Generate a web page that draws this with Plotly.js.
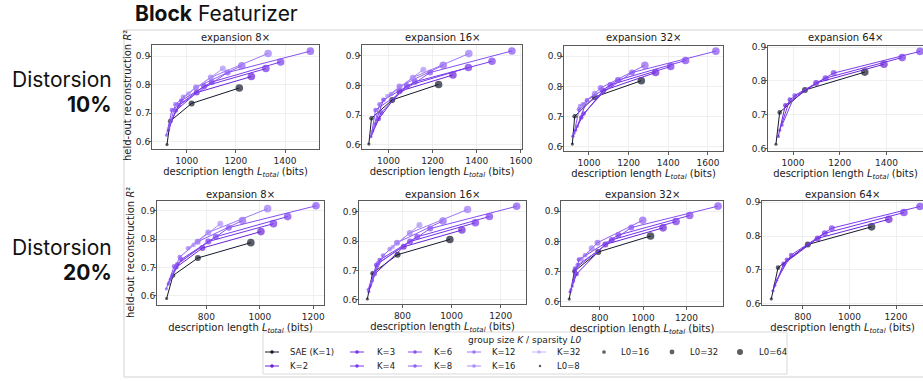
<!DOCTYPE html>
<html><head><meta charset="utf-8">
<script src="https://cdn.plot.ly/plotly-3.0.1.min.js"></script>
<style>html,body{margin:0;padding:0;background:#fff}#chart{width:923px;height:381px}</style>
</head><body><div id="chart"></div>
<script>
// ---------- data ----------
const seriesNames = ['SAE (K=1)','K=2','K=3','K=4','K=6','K=8','K=12','K=16','K=32'];
const L0 = [8, 16, 32, 64];
const panelTitles = ['expansion 8×','expansion 16×','expansion 32×','expansion 64×',
                     'expansion 8×','expansion 16×','expansion 32×','expansion 64×'];
const rowLabels = ['10%', '20%'];
const xTickStep = 200;
const yTickStep = 0.1;

// Distorsion 10%
const d10_e8_x = [[920,933,1020,1214],[925,956,1041,1263],[930,968,1071,1322],[936,978,1102,1382],[918,940,1166,1503],[928,954,1038,1224],[null,985,1098,1331],[null,1007,1147,null],[null,null,null,null]];
const d10_e8_y = [[0.590,0.672,0.734,0.788],[0.640,0.709,0.772,0.828],[0.657,0.728,0.794,0.856],[0.672,0.744,0.809,0.879],[0.623,0.711,0.842,0.917],[0.648,0.731,0.790,0.866],[null,0.757,0.825,0.909],[null,0.769,0.856,null],[null,null,null,null]];

const d10_e16_x = [[911,923,1017,1227],[920,956,1050,1292],[929,967,1083,1362],[939,977,1120,1469],[924,941,1188,1559],[933,959,1050,1248],[null,1012,1110,1364],[null,995,1158,null],[null,null,null,null]];
const d10_e16_y = [[0.603,0.690,0.752,0.804],[0.628,0.688,0.781,0.836],[0.647,0.709,0.799,0.861],[0.670,0.752,0.813,0.882],[0.638,0.718,0.844,0.917],[0.658,0.737,0.797,0.869],[null,0.772,0.827,0.908],[null,0.765,0.854,null],[null,null,null,null]];

const d10_e32_x = [[916,928,1029,1264],[919,961,1071,1336],[933,973,1108,1412],[941,990,1146,1487],[925,950,1217,1640],[null,970,1059,1282],[null,955,1029,null],[null,null,null,null],[null,null,null,null]];
const d10_e32_y = [[0.609,0.701,0.765,0.819],[0.635,0.697,0.786,0.846],[0.655,0.710,0.805,0.866],[0.668,0.754,0.821,0.886],[0.645,0.724,0.846,0.917],[null,0.741,0.795,0.870],[null,0.735,0.776,null],[null,null,null,null],[null,null,null,null]];

const d10_e64_x = [[927,943,1051,1307],[937,967,1099,1389],[943,986,1139,1467],[953,1007,1174,1543]];
const d10_e64_y = [[0.613,0.707,0.773,0.826],[0.636,0.728,0.794,0.849],[0.654,0.745,0.808,0.869],[0.669,0.757,0.823,0.887]];

// Distorsion 20%
const d20_e8_x = [[651,675,768,966],[657,687,785,1004],[665,691,807,1051],[672,706,835,1104],[650,679,884,1210],[660,700,767,935],[null,731,807,1029],[null,752,852,null],[null,null,null,null]];
const d20_e8_y = [[0.591,0.672,0.734,0.788],[0.642,0.701,0.769,0.827],[0.659,0.712,0.792,0.855],[0.670,0.729,0.809,0.880],[0.625,0.705,0.841,0.918],[0.648,0.737,0.791,0.866],[null,0.768,0.824,0.908],[null,0.780,0.855,null],[null,null,null,null]];

const d20_e16_x = [[657,678,780,993],[663,687,805,1042],[669,693,831,1097],[678,707,860,1154],[660,700,913,1265],[672,721,778,965],[null,748,830,1065],[null,760,869,null],[null,null,null,null]];
const d20_e16_y = [[0.603,0.691,0.754,0.806],[0.628,0.688,0.781,0.838],[0.648,0.719,0.799,0.863],[0.665,0.736,0.815,0.884],[0.635,0.725,0.843,0.919],[0.655,0.751,0.795,0.869],[null,0.773,0.828,0.908],[null,0.780,0.855,null],[null,null,null,null]];

const d20_e32_x = [[658,682,792,1034],[662,692,825,1092],[672,685,855,1152],[678,703,885,1215],[666,697,945,1346],[null,731,789,998],[null,715,762,null],[null,null,null,null],[null,null,null,null]];
const d20_e32_y = [[0.609,0.701,0.765,0.818],[0.633,0.692,0.790,0.845],[0.652,0.710,0.805,0.866],[0.668,0.740,0.821,0.886],[0.640,0.722,0.846,0.917],[null,0.754,0.796,0.870],[null,0.742,0.777,null],[null,null,null,null],[null,null,null,null]];

const d20_e64_x = [[664,693,821,1095],[671,717,863,1169],[679,731,894,1234],[687,749,924,1303]];
const d20_e64_y = [[0.615,0.707,0.775,0.827],[0.639,0.718,0.793,0.849],[0.655,0.730,0.808,0.869],[0.670,0.744,0.823,0.887]];

// ---------- styling / layout ----------
const W = 923, H = 381;
const seriesColors = ['#141a2b','#6a22d6','#7431e8','#7b3cee','#8650f2','#9060f4','#9d78f7','#ac8ef9','#c6b6fc'];
const sizeFor = {8: 3.2, 16: 4.6, 32: 6.0, 64: 7.6};
const px = v => v / W;
const py = v => 1 - v / H;

const panels = [
  {xs:d10_e8_x,  ys:d10_e8_y,  box:[152,319,45,149], xr:[859,1538], yr:[0.5745,0.9385]},
  {xs:d10_e16_x, ys:d10_e16_y, box:[362,522,45,149], xr:[880,1605], yr:[0.5865,0.937]},
  {xs:d10_e32_x, ys:d10_e32_y, box:[564,723,46,151], xr:[874,1676], yr:[0.586,0.934]},
  {xs:d10_e64_x, ys:d10_e64_y, box:[768,923,46,151], xr:[893,1556], yr:[0.593,0.903]},
  {xs:d20_e8_x,  ys:d20_e8_y,  box:[157,324,201,305], xr:[615,1240], yr:[0.568,0.935]},
  {xs:d20_e16_x, ys:d20_e16_y, box:[359,526,201,304], xr:[623,1303], yr:[0.586,0.937]},
  {xs:d20_e32_x, ys:d20_e32_y, box:[561,723,201,306], xr:[620,1369], yr:[0.586,0.934]},
  {xs:d20_e64_x, ys:d20_e64_y, box:[762,923,201,305], xr:[624,1316], yr:[0.597,0.903]},
];

const tickFont = {family:'DejaVu Sans', size:9, color:'#262626'};
const titleFont = {family:'DejaVu Sans', size:10, color:'#1a1a1a'};
const xTitle = 'description length <i>L</i><span style="font-size:7px;baseline-shift:-2px"><i>total</i></span> (bits)';
const traces = [];
const layout = {
  width: W, height: H, margin:{l:0,r:0,t:0,b:0},
  paper_bgcolor:'#ffffff', plot_bgcolor:'#ffffff',
  showlegend:false, annotations:[], shapes:[],
  font:{family:'DejaVu Sans', color:'#222'}
};

panels.forEach((p, i) => {
  const n = i + 1;
  const xa = 'x' + n, ya = 'y' + n;
  p.xs.forEach((xv, s) => {
    if (xv.every(v => v === null)) return;
    traces.push({
      type:'scatter', mode:'lines+markers', name:seriesNames[s],
      x:xv, y:p.ys[s], xaxis:xa, yaxis:ya,
      line:{color:seriesColors[s], width:1},
      marker:{color:seriesColors[s], size:L0.map(l => sizeFor[l]), line:{width:0}},
      cliponaxis:true, hoverinfo:'skip'
    });
  });
  const [l, r, t, b] = p.box;
  const axisCommon = {
    showline:true, mirror:true, linecolor:'#5a5a5a', linewidth:1,
    showgrid:true, gridcolor:'#ebebeb', gridwidth:0.8, zeroline:false,
    ticks:'outside', ticklen:3, tickwidth:1, tickcolor:'#5a5a5a',
    tickfont:tickFont, automargin:false
  };
  layout['xaxis' + (n === 1 ? '' : n)] = Object.assign({}, axisCommon, {
    domain:[px(l), Math.min(1, px(r))], range:p.xr, anchor:ya,
    tickmode:'linear', tick0:0, dtick:xTickStep,
    title:{text:xTitle, font:titleFont, standoff:2}
  });
  layout['yaxis' + (n === 1 ? '' : n)] = Object.assign({}, axisCommon, {
    domain:[py(b), py(t)], range:p.yr, anchor:xa,
    tickmode:'linear', tick0:0, dtick:yTickStep, tickformat:'.1f',
    ticklen:2, ticklabelstandoff:-3
  });
  if (i % 4 === 0) {
    layout.annotations.push({
      text:'held-out reconstruction <i>R</i>²', xref:'paper', yref:'paper',
      x:px(i === 0 ? 127 : 130), y:py((t + b) / 2 + (i === 0 ? -1 : 0)), textangle:-90,
      xanchor:'center', yanchor:'middle', showarrow:false, font:titleFont
    });
  }
  layout.annotations.push({
    text:panelTitles[i], xref:'paper', yref:'paper',
    x:px((l + Math.min(r, 923)) / 2), y:py(i < 4 ? 38 : 194),
    xanchor:'center', yanchor:'middle', showarrow:false,
    font:{family:'DejaVu Sans', size:10, color:'#1a1a1a'}
  });
});

// figure title and row labels
const bigFont = 'Inter, Lato, "Open Sans", sans-serif';
layout.annotations.push({
  text:'<b>Block</b> Featurizer', xref:'paper', yref:'paper', x:px(133), y:py(13),
  xanchor:'left', yanchor:'middle', showarrow:false,
  font:{family:bigFont, size:21, color:'#111'}
});
[[79.5,104],[247.5,272]].forEach((yy, r) => {
  layout.annotations.push({text:'Distorsion', xref:'paper', yref:'paper', x:px(114), y:py(yy[0]),
    xanchor:'right', yanchor:'middle', showarrow:false,
    font:{family:bigFont, size:21, color:'#111'}});
  layout.annotations.push({text:'<b>' + rowLabels[r] + '</b>', xref:'paper', yref:'paper', x:px(114), y:py(yy[1]),
    xanchor:'right', yanchor:'middle', showarrow:false,
    font:{family:bigFont, size:21, color:'#111'}});
});

// outer frame
layout.shapes.push({type:'rect', xref:'paper', yref:'paper', x0:px(124), x1:px(930), y0:py(377), y1:py(30),
  line:{color:'#d2d2d2', width:1}, fillcolor:'rgba(0,0,0,0)', layer:'below'});

// legend (drawn)
layout.shapes.push({type:'rect', xref:'paper', yref:'paper', x0:px(263), x1:px(787), y0:py(374), y1:py(332),
  line:{color:'#d9d9d9', width:1}, fillcolor:'#ffffff', layer:'below'});
const legFont = {family:'DejaVu Sans', size:8.5, color:'#1a1a1a'};
layout.annotations.push({text:'group size <i>K</i> / sparsity <i>L0</i>', xref:'paper', yref:'paper', x:px(525), y:py(340),
  xanchor:'center', yanchor:'middle', showarrow:false, font:{family:'DejaVu Sans', size:9, color:'#1a1a1a'}});
const legCols = [265, 350, 408, 467, 532];
const legTextX = [288, 375, 432, 490, 555];
const legRows = [352, 366];
seriesNames.forEach((nm, s) => {
  const c = Math.floor(s / 2), r = s % 2;
  const x0 = legCols[c], y = legRows[r];
  layout.shapes.push({type:'line', xref:'paper', yref:'paper', x0:px(x0), x1:px(x0 + 14), y0:py(y), y1:py(y),
    line:{color:seriesColors[s], width:1}});
  const rr = 1.8;
  layout.shapes.push({type:'circle', xref:'paper', yref:'paper', x0:px(x0 + 7 - rr), x1:px(x0 + 7 + rr),
    y0:py(y + rr), y1:py(y - rr), line:{width:0}, fillcolor:seriesColors[s]});
  layout.annotations.push({text:nm, xref:'paper', yref:'paper', x:px(legTextX[c]), y:py(y),
    xanchor:'left', yanchor:'middle', showarrow:false, font:legFont});
});
const sizeLeg = [[540, 366, 555], [604, 352, 619], [672, 352, 688], [740, 352, 757]];
L0.forEach((l, k) => {
  const [cx, cy, tx] = sizeLeg[k];
  const rr = sizeFor[l] / 2 * 0.8;
  layout.shapes.push({type:'circle', xref:'paper', yref:'paper', x0:px(cx - rr), x1:px(cx + rr),
    y0:py(cy + rr), y1:py(cy - rr), line:{width:0}, fillcolor:'#5f5f5f'});
  layout.annotations.push({text:'L0=' + l, xref:'paper', yref:'paper', x:px(tx), y:py(cy),
    xanchor:'left', yanchor:'middle', showarrow:false, font:legFont});
});

Plotly.newPlot('chart', traces, layout, {displayModeBar:false, staticPlot:true});
</script>
</body></html>
